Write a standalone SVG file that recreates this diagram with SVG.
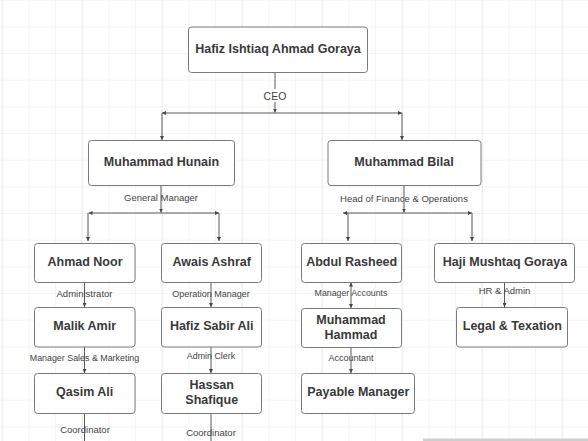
<svg xmlns="http://www.w3.org/2000/svg" width="588" height="441" viewBox="0 0 588 441">
  <style>
    .box { fill: #ffffff; stroke: #7a7a7a; stroke-width: 1; }
    .nt { font-family: "Liberation Sans", Arial, sans-serif; font-weight: bold; font-size: 12.5px; fill: #3a3a3a; text-anchor: middle; }
    .lb { font-family: "Liberation Sans", Arial, sans-serif; font-size: 9.5px; fill: #444444; text-anchor: middle; }
    .cn { fill: none; stroke: #5a5a5a; stroke-width: 1; }
  </style>
  <defs>
    <pattern id="grid" x="1.67" y="-0.33" width="26.667" height="26.667" patternUnits="userSpaceOnUse">
      <path d="M0,0 V26.667 M0,0 H26.667" fill="none" stroke="#ebebeb" stroke-width="1"/>
    </pattern>
    <pattern id="major" x="1.67" y="0" width="80" height="441" patternUnits="userSpaceOnUse">
      <path d="M0,0 V441" fill="none" stroke="#e0e0e0" stroke-width="1"/>
    </pattern>
    <marker id="ar" viewBox="0 0 6 6" refX="6" refY="3" markerWidth="4" markerHeight="4" markerUnits="userSpaceOnUse" orient="auto-start-reverse">
      <path d="M0,0 L6,3 L0,6 Z" fill="#444444"/>
    </marker>
  </defs>

  <rect x="0" y="0" width="588" height="441" fill="#ffffff"/>
  <rect x="0" y="0" width="588" height="441" fill="url(#grid)"/>
  <rect x="0" y="0" width="588" height="441" fill="url(#major)"/>
  <rect x="423" y="438.5" width="165" height="2.5" fill="#cfcfcf"/>

  <g id="connectors">
    <path class="cn" d="M275,72.5 V112.5" marker-end="url(#ar)"/>
    <path class="cn" d="M275,113 H162" marker-end="url(#ar)"/>
    <path class="cn" d="M162,113 V140" marker-end="url(#ar)"/>
    <path class="cn" d="M275,113 H402" marker-end="url(#ar)"/>
    <path class="cn" d="M402,113 V140" marker-end="url(#ar)"/>
    <path class="cn" d="M161,186 V212.5" marker-end="url(#ar)"/>
    <path class="cn" d="M161,213 H88.5" marker-end="url(#ar)"/>
    <path class="cn" d="M88,213 V241" marker-end="url(#ar)"/>
    <path class="cn" d="M161,213 H219" marker-end="url(#ar)"/>
    <path class="cn" d="M219,213 V241" marker-end="url(#ar)"/>
    <path class="cn" d="M404,185.5 V212.5" marker-end="url(#ar)"/>
    <path class="cn" d="M404,213 H343" marker-end="url(#ar)"/>
    <path class="cn" d="M348,213 V241" marker-end="url(#ar)"/>
    <path class="cn" d="M404,213 H472" marker-end="url(#ar)"/>
    <path class="cn" d="M472,213 V241" marker-end="url(#ar)"/>
    <path class="cn" d="M84.5,282.5 V307" marker-end="url(#ar)"/>
    <path class="cn" d="M211,282.5 V307" marker-end="url(#ar)"/>
    <path class="cn" d="M84.5,347 V373" marker-end="url(#ar)"/>
    <path class="cn" d="M211,347 V373" marker-end="url(#ar)"/>
    <path class="cn" d="M84.5,413.5 V441"/>
    <path class="cn" d="M211,413.5 V441"/>
    <path class="cn" d="M351,282.5 V308" marker-start="url(#ar)" marker-end="url(#ar)"/>
    <path class="cn" d="M504.5,282.5 V307" marker-end="url(#ar)"/>
    <path class="cn" d="M351,347.5 V373" marker-end="url(#ar)"/>
  </g>

  <g id="labels">
    <rect x="262" y="89" width="26" height="13" fill="#ffffff"/>
    <text class="lb" x="275" y="99.8" style="font-size:10.5px">CEO</text>
    <text class="lb" x="161" y="200.7">General Manager</text>
    <text class="lb" x="404" y="202">Head of Finance &amp; Operations</text>
    <text class="lb" x="84.5" y="297.4">Administrator</text>
    <text class="lb" x="211" y="297.4" style="font-size:9px">Operation Manager</text>
    <text class="lb" x="351" y="296" style="font-size:8.8px">Manager Accounts</text>
    <text class="lb" x="504.5" y="294.4">HR &amp; Admin</text>
    <text class="lb" x="84.5" y="360.7" style="font-size:8.9px">Manager Sales &amp; Marketing</text>
    <text class="lb" x="211" y="359" style="font-size:8.9px">Admin Clerk</text>
    <text class="lb" x="351" y="360.7" style="font-size:9px">Accountant</text>
    <text class="lb" x="85" y="433.4">Coordinator</text>
    <text class="lb" x="211" y="435.7">Coordinator</text>
  </g>

  <g id="n-ceo">
    <rect class="box" x="188.5" y="27" width="179" height="45.5" rx="3"/>
    <text class="nt" x="278" y="52.8">Hafiz Ishtiaq Ahmad Goraya</text>
  </g>
  <g id="n-hunain">
    <rect class="box" x="88.5" y="140.5" width="146" height="45" rx="3"/>
    <text class="nt" x="161.5" y="166">Muhammad Hunain</text>
  </g>
  <g id="n-bilal">
    <rect class="box" x="328" y="140.5" width="153" height="45" rx="3"/>
    <text class="nt" x="404" y="166">Muhammad Bilal</text>
  </g>
  <g id="n-ahmad">
    <rect class="box" x="34.5" y="243.5" width="100.5" height="39" rx="3"/>
    <text class="nt" x="85" y="265.5">Ahmad Noor</text>
  </g>
  <g id="n-awais">
    <rect class="box" x="161.5" y="243.5" width="100" height="39" rx="3"/>
    <text class="nt" x="211.7" y="265.5">Awais Ashraf</text>
  </g>
  <g id="n-abdul">
    <rect class="box" x="301.5" y="243.5" width="100" height="39" rx="3"/>
    <text class="nt" x="351.7" y="265.5">Abdul Rasheed</text>
  </g>
  <g id="n-haji">
    <rect class="box" x="434.5" y="243.5" width="140" height="39" rx="3"/>
    <text class="nt" x="505" y="265.5">Haji Mushtaq Goraya</text>
  </g>
  <g id="n-malik">
    <rect class="box" x="34.5" y="307.5" width="100.5" height="39.5" rx="3"/>
    <text class="nt" x="84.7" y="330">Malik Amir</text>
  </g>
  <g id="n-sabir">
    <rect class="box" x="161.5" y="307.5" width="100" height="39.5" rx="3"/>
    <text class="nt" x="211.7" y="330">Hafiz Sabir Ali</text>
  </g>
  <g id="n-hammad">
    <rect class="box" x="301.5" y="308.5" width="100" height="39" rx="3"/>
    <text class="nt" x="351" y="323.5">Muhammad</text>
    <text class="nt" x="351" y="338.8">Hammad</text>
  </g>
  <g id="n-legal">
    <rect class="box" x="456.5" y="307.5" width="111" height="39.5" rx="3"/>
    <text class="nt" x="512.3" y="330">Legal &amp; Texation</text>
  </g>
  <g id="n-qasim">
    <rect class="box" x="34.5" y="373.5" width="100.5" height="40" rx="3"/>
    <text class="nt" x="84.7" y="396">Qasim Ali</text>
  </g>
  <g id="n-hassan">
    <rect class="box" x="161.5" y="373.5" width="100" height="40" rx="3"/>
    <text class="nt" x="211.7" y="388.8">Hassan</text>
    <text class="nt" x="211.7" y="403.8">Shafique</text>
  </g>
  <g id="n-payable">
    <rect class="box" x="301.5" y="373.5" width="113" height="40" rx="3"/>
    <text class="nt" x="358.3" y="396">Payable Manager</text>
  </g>
</svg>
